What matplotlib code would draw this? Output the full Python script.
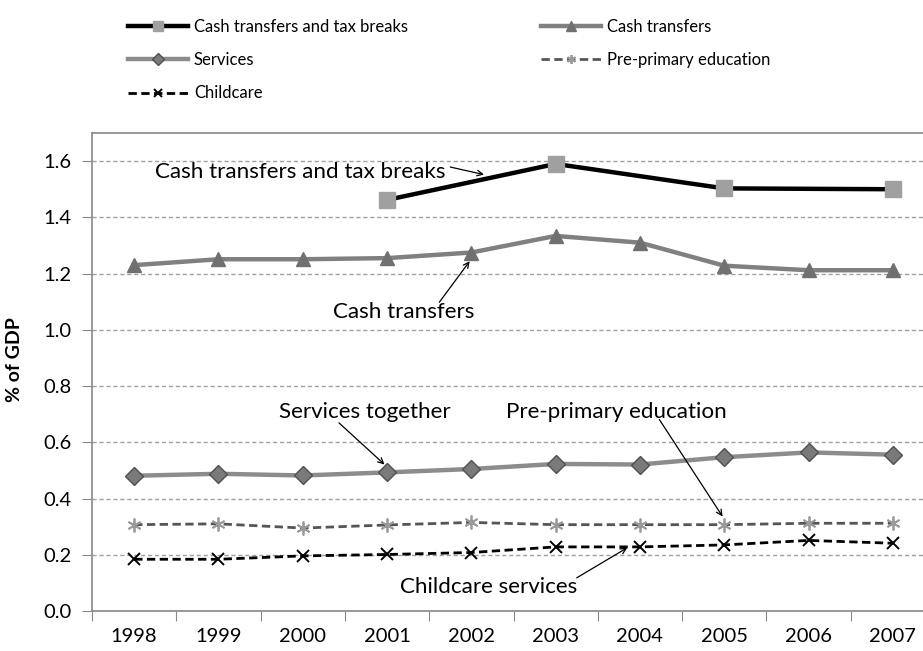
import numpy as np
import matplotlib
matplotlib.use("Agg")
import matplotlib.pyplot as plt

plt.rcParams['font.family'] = ['Lato', 'DejaVu Sans']

# values (% of GDP)
years = [1998, 1999, 2000, 2001, 2002, 2003, 2004, 2005, 2006, 2007]
cash_tax = [np.nan, np.nan, np.nan, 1.462, np.nan, 1.590, np.nan, 1.503, np.nan, 1.500]
cash = [1.230, 1.251, 1.251, 1.255, 1.275, 1.334, 1.310, 1.228, 1.212, 1.212]
services = [0.481, 0.488, 0.482, 0.493, 0.505, 0.523, 0.521, 0.547, 0.564, 0.556]
preprimary = [0.307, 0.310, 0.295, 0.306, 0.315, 0.307, 0.307, 0.307, 0.312, 0.312]
childcare = [0.184, 0.184, 0.196, 0.201, 0.208, 0.228, 0.228, 0.235, 0.251, 0.241]

legend_names = ['Cash transfers and tax breaks', 'Cash transfers', 'Services',
                'Pre-primary education', 'Childcare']

# (label, text position, arrow start, arrow head) in data units
notes = [
    ('Cash transfers and tax breaks', (1999.97, 1.561), (2001.75, 1.579), (2002.15, 1.552)),
    ('Cash transfers', (2001.20, 1.062), (2001.62, 1.098), (2001.98, 1.244)),
    ('Services together', (2000.74, 0.706), (2000.43, 0.669), (2000.97, 0.521)),
    ('Pre-primary education', (2003.72, 0.706), (2004.23, 0.681), (2004.98, 0.336)),
    ('Childcare services', (2002.20, 0.087), (2003.25, 0.118), (2003.85, 0.225)),
]

fig = plt.figure(figsize=(9.23, 6.51), dpi=100)
ax = fig.add_axes([92 / 923, 40 / 651, 843 / 923, 478 / 651])

x = np.array(years)
ct_mask = ~np.isnan(cash_tax)
h1, = ax.plot(x[ct_mask], np.array(cash_tax)[ct_mask], color='black', lw=3.2,
              marker='s', ms=11, mfc='#a0a0a0', mec='#a0a0a0', zorder=5)
h2, = ax.plot(x, cash, color='#808080', lw=3.2, marker='^', ms=10,
              mfc='#707070', mec='#707070', zorder=4)
h3, = ax.plot(x, services, color='#8c8c8c', lw=3.2, marker='D', ms=9,
              mfc='#7a7a7a', mec='#505050', mew=1, zorder=4)
h4, = ax.plot(x, preprimary, color='#555555', lw=2, dashes=(3, 1.6),
              marker=(6, 2, 0), ms=10, mec='#9a9a9a', mew=1.3, zorder=4)
h5, = ax.plot(x, childcare, color='black', lw=2, dashes=(3, 1.6),
              marker='x', ms=8, mec='black', mew=1.4, zorder=4)

ax.set_xlim(1997.5, 2007.5)
ax.set_ylim(0, 1.7)
ax.set_yticks(np.arange(0, 1.61, 0.2))
ax.set_yticklabels(['%.1f' % v for v in np.arange(0, 1.61, 0.2)], fontsize=14.5)
# category axis: tick marks between years, labels centred on the years
ax.set_xticks(np.arange(1997.5, 2007.6, 1.0))
ax.set_xticklabels([])
ax.set_xticks(years, minor=True)
ax.set_xticklabels([str(y) for y in years], minor=True, fontsize=14.5)
ax.tick_params(axis='x', which='minor', length=0, pad=12)
ax.tick_params(axis='x', which='major', length=7, color='#888888')
ax.tick_params(axis='y', length=7, color='#888888', pad=8)
ax.yaxis.grid(True, color='#a0a0a0', lw=1, dashes=(3, 2))
for s in ax.spines.values():
    s.set_color('#888888')
    s.set_linewidth(1.2)
ax.set_ylabel('% of GDP', fontsize=14, fontweight='bold')
ax.yaxis.set_label_coords(-0.0819, 0.527)

for label, txt, start, head in notes:
    ax.text(txt[0], txt[1], label, fontsize=16.1, ha='center', va='center', zorder=6)
    ax.annotate('', xy=head, xytext=start,
                arrowprops=dict(arrowstyle='->', color='black', lw=0.9,
                                shrinkA=0, shrinkB=0), zorder=6)

fig.legend([h1, h3, h5, h2, h4],
           [legend_names[0], legend_names[2], legend_names[4],
            legend_names[1], legend_names[3]],
           ncol=2, loc='upper left', bbox_to_anchor=(128 / 923, 1 - 18.7 / 651),
           frameon=False, fontsize=12, handlelength=3.6, handletextpad=0.36,
           columnspacing=7.98, labelspacing=1.04, borderpad=0, borderaxespad=0,
           markerscale=0.65)

fig.savefig('out.png', dpi=100)
